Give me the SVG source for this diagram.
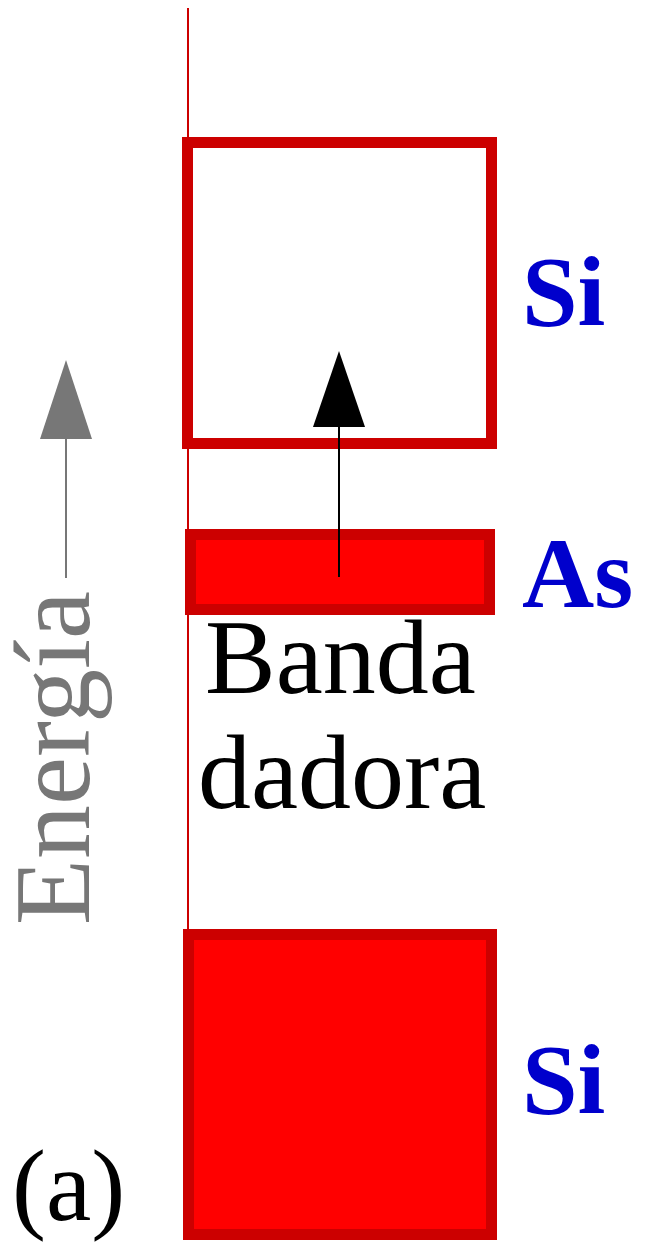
<svg xmlns="http://www.w3.org/2000/svg" width="646" height="1244" viewBox="0 0 646 1244">
<style>
.band{stroke:#cc0000;stroke-width:11}
.serif{font-family:'Liberation Serif','Times New Roman','DejaVu Serif',serif}
.lbl{font-weight:bold;fill:#0000cc;font-size:100px}
.txt{fill:#000;font-size:106px}
</style>
<rect width="646" height="1244" fill="#fff"/>
<g id="axis">
<line x1="188" y1="8" x2="188" y2="932" stroke="#cc0000" stroke-width="2"/>
</g>
<g id="si-top">
<rect class="band" x="187.5" y="142.5" width="304" height="301" fill="#fff"/>
<text class="serif lbl" x="522" y="325">Si</text>
</g>
<g id="as">
<rect class="band" x="190.5" y="534.5" width="299" height="75" fill="#ff0000"/>
<text class="serif lbl" x="522" y="607">As</text>
</g>
<g id="banda">
<text class="serif txt" x="205" y="693">Banda</text>
<text class="serif txt" x="198" y="808">dadora</text>
</g>
<g id="si-bottom">
<rect class="band" x="188.5" y="934.5" width="303" height="300" fill="#ff0000"/>
<text class="serif lbl" x="522" y="1113">Si</text>
</g>
<g id="label-a">
<text class="serif txt" x="12" y="1220" style="font-size:102px">(a)</text>
</g>
<g id="energia">
<text class="serif" transform="translate(89,925) rotate(-90)" style="font-size:108px" fill="#777">Energía</text>
</g>
<g id="connectors">
<line x1="339" y1="577" x2="339" y2="426" stroke="#000" stroke-width="2"/>
<polygon points="339,351 313,427 365,427" fill="#000"/>
<line x1="66" y1="578" x2="66" y2="438" stroke="#777" stroke-width="2"/>
<polygon points="66,360 40,439 92,439" fill="#777"/>
</g>
</svg>
